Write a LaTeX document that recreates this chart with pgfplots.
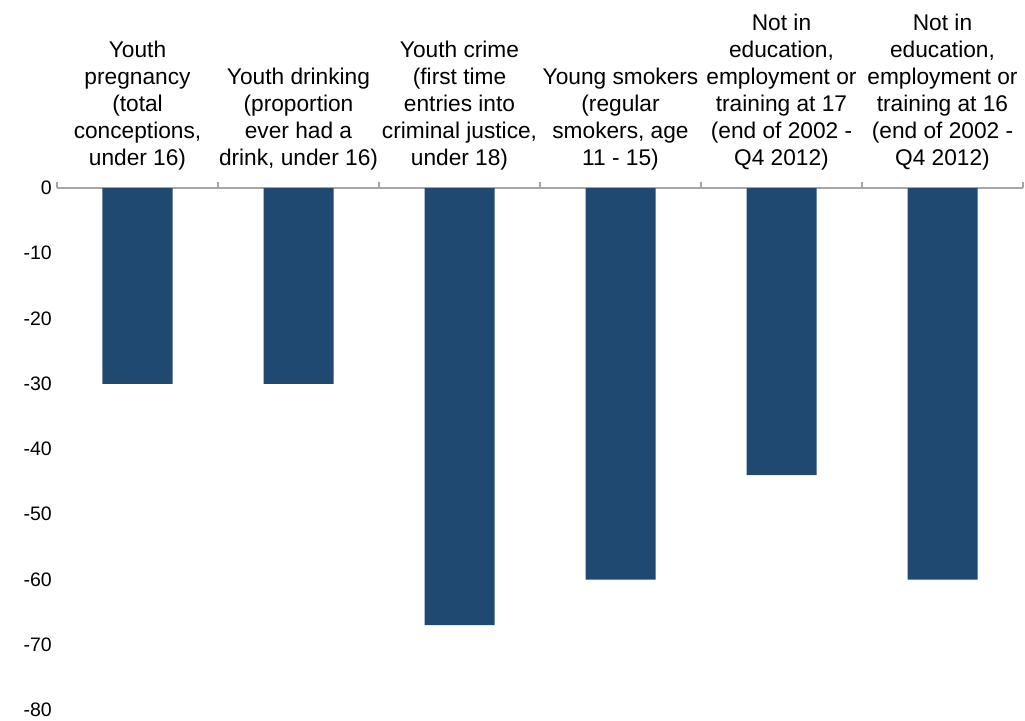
\documentclass[border=0pt]{standalone}
\usepackage{pgfplots}
\pgfplotsset{compat=1.18}
\usepackage{fontspec}
\setmainfont{Liberation Sans}
\definecolor{barblue}{RGB}{31,73,112}
\definecolor{axgray}{RGB}{166,166,166}
\begin{document}
\begin{tikzpicture}
\useasboundingbox (0,0) rectangle (1025pt,-720pt);
\begin{axis}[
  at={(57pt,-710pt)}, anchor=south west,
  scale only axis, width=966pt, height=522pt,
  xmin=-0.5, xmax=5.5, ymin=-80, ymax=0,
  axis x line*=top, axis y line*=left,
  y axis line style={draw=none},
  x axis line style={draw=axgray, line width=1.5pt},
  xtick={0,...,5},
  minor xtick={-0.5,0.5,...,5.5},
  major x tick style={draw=none},
  minor x tick style={draw=axgray, line width=1.5pt},
  minor tick length=6pt,
  tick align=inside,
  xticklabels={
    {Youth\\pregnancy\\(total\\conceptions,\\under 16)},
    {Youth drinking\\(proportion\\ever had a\\drink, under 16)},
    {Youth crime\\(first time\\entries into\\criminal justice,\\under 18)},
    {Young smokers\\(regular\\smokers, age\\11 - 15)},
    {Not in\\education,\\employment or\\training at 17\\(end of 2002 -\\Q4 2012)},
    {Not in\\education,\\employment or\\training at 16\\(end of 2002 -\\Q4 2012)}},
  xticklabel style={align=center, anchor=south, inner sep=0pt,
    font=\fontsize{22.7}{27}\selectfont},
  x tick label style={yshift=13pt},
  ytick={-80,-70,...,0},
  major y tick style={draw=none},
  yticklabel style={font=\fontsize{19.5}{23}\selectfont, inner sep=0pt, xshift=-5pt},
  /pgf/number format/assume math mode=true,
  ybar, bar width=70pt,
  clip=false,
]
\addplot[fill=barblue, draw=none] coordinates {(0,-30) (1,-30) (2,-67) (3,-60) (4,-44) (5,-60)};
\end{axis}
\end{tikzpicture}
\end{document}
